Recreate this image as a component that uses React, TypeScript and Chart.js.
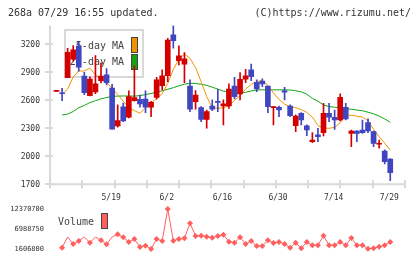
import React, { useEffect, useRef } from 'react';
import { Chart, registerables } from 'chart.js';

Chart.register(...registerables);

// Trading days shown on the chart
const dates = [
  '5/1', '5/2', '5/7', '5/8', '5/9', '5/12', '5/13', '5/14', '5/15', '5/16',
  '5/19', '5/20', '5/21', '5/22', '5/23', '5/26', '5/27', '5/28', '5/29', '5/30',
  '6/2', '6/3', '6/4', '6/5', '6/6', '6/9', '6/10', '6/11', '6/12', '6/13',
  '6/16', '6/17', '6/18', '6/19', '6/20', '6/23', '6/24', '6/25', '6/26', '6/27',
  '6/30', '7/1', '7/2', '7/3', '7/4', '7/7', '7/8', '7/9', '7/10', '7/11',
  '7/14', '7/15', '7/16', '7/17', '7/18', '7/22', '7/23', '7/24', '7/25', '7/28',
  '7/29',
];

const opens = [
  2696, 2680, 2842, 3040, 3180, 2860, 2650, 2690, 2810, 2872,
  2730, 2325, 2530, 2420, 2596, 2611, 2614, 2525, 2632, 2757,
  2864, 3300, 3025, 2986, 2753, 2586, 2521, 2396, 2539, 2586,
  2539, 2539, 2753, 2668, 2825, 2925, 2793, 2807, 2753, 2521,
  2525, 2700, 2539, 2329, 2461, 2325, 2157, 2229, 2254, 2461,
  2418, 2389, 2525, 2246, 2271, 2282, 2361, 2264, 2129, 2057,
  1971,
];

const highs = [
  2696, 2728, 3157, 3185, 3232, 2900, 2850, 3080, 3000, 2940,
  2770, 2550, 2570, 2700, 2970, 2657, 2700, 2590, 2846, 2925,
  3264, 3400, 3182, 3111, 2818, 2704, 2532, 2496, 2604, 2718,
  2604, 2775, 2846, 2896, 2932, 2989, 2818, 2829, 2753, 2532,
  2539, 2739, 2550, 2443, 2468, 2336, 2254, 2300, 2568, 2568,
  2496, 2668, 2568, 2282, 2275, 2389, 2400, 2271, 2175, 2068,
  1975,
];

const lows = [
  2696, 2596, 2842, 3020, 2912, 2660, 2648, 2670, 2785, 2765,
  2290, 2311, 2370, 2410, 2590, 2525, 2468, 2425, 2611, 2711,
  2800, 3157, 2979, 2789, 2479, 2504, 2371, 2300, 2489, 2479,
  2336, 2514, 2614, 2604, 2789, 2811, 2693, 2746, 2468, 2336,
  2425, 2604, 2425, 2264, 2336, 2221, 2146, 2157, 2218, 2371,
  2289, 2379, 2389, 2104, 2157, 2246, 2254, 2104, 2086, 1918,
  1739,
];

const closes = [
  2696, 2670, 3114, 3140, 2955, 2682, 2828, 2775, 2860, 2790,
  2290, 2382, 2380, 2640, 2630, 2561, 2525, 2579, 2818, 2861,
  3246, 3239, 3075, 3043, 2504, 2657, 2396, 2479, 2504, 2578,
  2561, 2721, 2639, 2825, 2861, 2854, 2721, 2775, 2532, 2529,
  2496, 2686, 2436, 2432, 2389, 2282, 2175, 2211, 2461, 2418,
  2389, 2632, 2400, 2271, 2246, 2254, 2271, 2139, 2139, 1943,
  1825,
];

const ma5 = [
  null, 2664, 2720, 2850, 2915, 2913, 2944, 2876, 2820, 2790,
  2730, 2660, 2590, 2520, 2489, 2461, 2520, 2570, 2620, 2670,
  2780, 2930, 3040, 3095, 3050, 2950, 2800, 2640, 2520, 2514,
  2520, 2540, 2600, 2650, 2720, 2770, 2800, 2811, 2760, 2680,
  2610, 2560, 2530, 2520, 2500, 2470, 2420, 2330, 2300, 2300,
  2310, 2360, 2440, 2440, 2430, 2420, 2380, 2290, 2210, 2140,
  2068,
];

const ma25 = [
  null, 2443, 2452, 2480, 2520, 2545, 2575, 2595, 2615, 2630,
  2642, 2645, 2646, 2646, 2645, 2650, 2662, 2672, 2688, 2702,
  2718, 2735, 2755, 2772, 2782, 2780, 2772, 2760, 2740, 2720,
  2698, 2690, 2682, 2676, 2685, 2700, 2710, 2712, 2712, 2712,
  2712, 2712, 2710, 2702, 2690, 2665, 2620, 2590, 2550, 2532,
  2526, 2520, 2510, 2504, 2495, 2488, 2472, 2455, 2430, 2400,
  2364,
];

const volumes = [
  null, 1960000, 4840000, 2950000, 3760000, 4840000, 3300000, 4840000, 3950000, 2870000,
  4840000, 5560000, 4760000, 3490000, 4300000, 2150000, 2500000, 1606800, 4300000, 3760000,
  12370700, 3840000, 4300000, 4490000, 8520000, 5110000, 5190000, 4920000, 4650000, 5110000,
  5460000, 3570000, 3300000, 4760000, 2950000, 3760000, 2410000, 2410000, 3950000, 3220000,
  3490000, 2950000, 1960000, 3300000, 1790000, 3490000, 2600000, 2600000, 5190000, 2600000,
  2600000, 3490000, 2600000, 4570000, 2600000, 2600000, 1700000, 1790000, 2230000, 2600000,
  3490000,
];

const priceTicks = [1700, 2000, 2300, 2600, 2900, 3200];
const dateTickLabels = ['5/19', '6/2', '6/16', '6/30', '7/14', '7/29'];
const titleText = '268a 07/29 16:55 updated.';
const creditText = '(C)https://www.rizumu.net/';
const maLabels = ['5-day MA', '25-day MA'];
const volumeLabel = 'Volume';
const hiddenVolumeMarkers = [2, 5, 7, 10];

const RED = '#d40000';
const BLUE = '#4046c0';
const ORANGE = '#f39200';
const GREEN = '#12a412';
const VOL = '#ff5f5f';
const AXIS = '#d9d9d9';
const TEXT = '#333333';
const MONO = '"DejaVu Sans Mono", monospace';

const W = 420;
const H = 259;
const X_MIN = -1.17;
const X_MAX = 62.65;
const PRICE_MIN = 1700;
const PRICE_MAX = 3400;

const vols = volumes.filter((v): v is number => v !== null);
const VOL_MIN = Math.min(...vols);
const VOL_MAX = Math.max(...vols);

const pricePanel = {
  id: 'pricePanel',
  beforeDatasetsDraw(chart: any) {
    const { ctx, chartArea: a, scales } = chart;
    const ys = scales.y;
    const xs = scales.x;
    ctx.save();

    // axis lines
    ctx.strokeStyle = AXIS;
    ctx.lineWidth = 2;
    ctx.beginPath();
    ctx.moveTo(a.left, a.top);
    ctx.lineTo(a.left, a.bottom);
    ctx.lineTo(a.right + 1, a.bottom);
    ctx.stroke();

    // price ticks and labels
    ctx.font = `8px ${MONO}`;
    ctx.fillStyle = TEXT;
    ctx.textAlign = 'right';
    ctx.textBaseline = 'middle';
    priceTicks.forEach((v) => {
      const py = Math.round(ys.getPixelForValue(v));
      ctx.beginPath();
      ctx.moveTo(a.left - 5, py);
      ctx.lineTo(a.left + 3, py);
      ctx.stroke();
      ctx.fillText(String(v), a.left - 10, py + 0.5);
    });

    // evenly spaced ticks along the time axis
    const divisions = 11;
    for (let k = 0; k <= divisions; k++) {
      const px = Math.round(a.left + ((a.right - a.left) * k) / divisions);
      ctx.beginPath();
      ctx.moveTo(px, a.bottom - 4);
      ctx.lineTo(px, a.bottom + 4);
      ctx.stroke();
    }

    // date labels
    ctx.textAlign = 'center';
    dateTickLabels.forEach((d) => {
      const i = dates.indexOf(d);
      const px = xs.getPixelForValue(i);
      ctx.fillText(d, px - 1, a.bottom + 14);
    });

    // legend box for moving averages
    ctx.strokeStyle = AXIS;
    ctx.lineWidth = 2;
    ctx.strokeRect(65, 30, 78, 47);
    ctx.font = `10px ${MONO}`;
    ctx.fillStyle = '#444';
    ctx.textAlign = 'right';
    ctx.fillText(maLabels[0], 124, 46);
    ctx.fillText(maLabels[1], 124, 62.5);
    ctx.lineWidth = 1;
    ctx.strokeStyle = '#444';
    ctx.fillStyle = ORANGE;
    ctx.fillRect(131, 37, 6, 15);
    ctx.strokeRect(131.5, 37.5, 6, 15);
    ctx.fillStyle = GREEN;
    ctx.fillRect(131, 54, 6, 15);
    ctx.strokeRect(131.5, 54.5, 6, 15);

    // header texts
    ctx.font = `10px ${MONO}`;
    ctx.fillStyle = TEXT;
    ctx.textAlign = 'left';
    ctx.fillText(titleText, 8, 13);
    ctx.textAlign = 'right';
    ctx.fillText(creditText, 411, 13);
    ctx.restore();
  },
};

const volumePanel = {
  id: 'volumePanel',
  afterDraw(chart: any) {
    const { ctx, scales } = chart;
    const ys = scales.y;
    ctx.save();
    ctx.font = `7px ${MONO}`;
    ctx.fillStyle = TEXT;
    ctx.textAlign = 'right';
    ctx.textBaseline = 'middle';
    [VOL_MAX, (VOL_MIN + VOL_MAX) / 2, VOL_MIN].forEach((v) => {
      ctx.fillText(String(Math.round(v)), 44, ys.getPixelForValue(v));
    });
    ctx.font = `10px ${MONO}`;
    ctx.fillStyle = '#444';
    ctx.textAlign = 'left';
    ctx.fillText(volumeLabel, 58, 222);
    ctx.fillStyle = VOL;
    ctx.fillRect(101, 213, 6, 15);
    ctx.strokeStyle = '#444';
    ctx.lineWidth = 1;
    ctx.strokeRect(101.5, 213.5, 6, 15);
    ctx.restore();
  },
};

export default function App() {
  const priceRef = useRef<HTMLCanvasElement>(null);
  const volRef = useRef<HTMLCanvasElement>(null);

  useEffect(() => {
    const candleColors = closes.map((c, i) => (c >= opens[i] ? RED : BLUE));
    const xScale = { type: 'linear', min: X_MIN, max: X_MAX, offset: false, display: false };

    const price = new Chart(priceRef.current as HTMLCanvasElement, {
      type: 'bar',
      data: {
        datasets: [
          {
            type: 'bar',
            label: 'body',
            data: dates.map((_, i) => ({ x: i, y: [opens[i], closes[i]] })),
            backgroundColor: candleColors,
            barThickness: 5,
            grouped: false,
            minBarLength: 1,
            order: 0,
          },
          {
            type: 'bar',
            label: 'wick',
            data: dates.map((_, i) => ({ x: i, y: [lows[i], highs[i]] })),
            backgroundColor: candleColors,
            barThickness: 1,
            grouped: false,
            minBarLength: 1,
            order: 1,
          },
          {
            type: 'line',
            label: maLabels[0],
            data: ma5.map((v, i) => ({ x: i, y: v })),
            borderColor: ORANGE,
            borderWidth: 1,
            pointRadius: 0,
            order: 2,
          },
          {
            type: 'line',
            label: maLabels[1],
            data: ma25.map((v, i) => ({ x: i, y: v })),
            borderColor: GREEN,
            borderWidth: 1,
            pointRadius: 0,
            order: 3,
          },
        ],
      } as any,
      options: {
        animation: false,
        responsive: false,
        devicePixelRatio: 1,
        layout: { padding: { left: 50, right: 15, top: 25.6, bottom: H - 184.3 } },
        scales: {
          x: xScale as any,
          y: { type: 'linear', min: PRICE_MIN, max: PRICE_MAX, display: false },
        },
        plugins: { legend: { display: false }, tooltip: { enabled: false } },
      },
      plugins: [pricePanel],
    });

    const volume = new Chart(volRef.current as HTMLCanvasElement, {
      type: 'line',
      data: {
        datasets: [
          {
            label: volumeLabel,
            data: volumes.map((v, i) => ({ x: i, y: v })),
            borderColor: VOL,
            backgroundColor: VOL,
            borderWidth: 1,
            pointStyle: 'rectRot',
            pointRadius: (c: any) => (hiddenVolumeMarkers.includes(c.dataIndex) ? 0 : 3),
            pointBorderWidth: 0,
            clip: false,
          },
        ],
      } as any,
      options: {
        animation: false,
        responsive: false,
        devicePixelRatio: 1,
        layout: { padding: { left: 50, right: 15, top: 209, bottom: 10 } },
        scales: {
          x: xScale as any,
          y: { type: 'linear', min: VOL_MIN, max: VOL_MAX, display: false },
        },
        plugins: { legend: { display: false }, tooltip: { enabled: false } },
      },
      plugins: [volumePanel],
    });

    return () => {
      price.destroy();
      volume.destroy();
    };
  }, []);

  const canvasStyle: React.CSSProperties = { position: 'absolute', left: 0, top: 0, display: 'block' };
  return (
    <div style={{ position: 'absolute', left: 0, top: 0, width: W, height: H, background: '#fff' }}>
      <canvas ref={priceRef} width={W} height={H} style={canvasStyle} />
      <canvas ref={volRef} width={W} height={H} style={canvasStyle} />
    </div>
  );
}
